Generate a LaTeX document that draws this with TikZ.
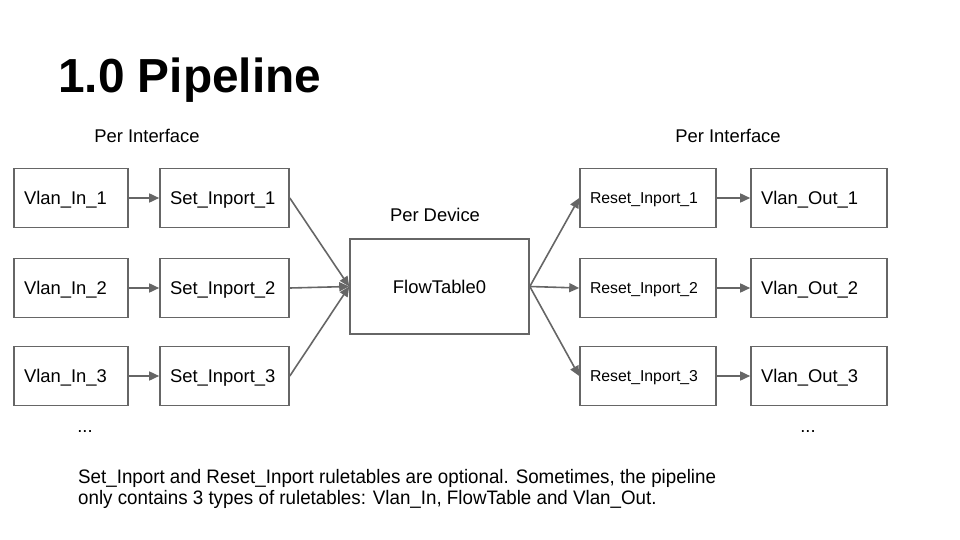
\documentclass[tikz,border=0pt]{standalone}
\usepackage{fontspec}
\setmainfont{Liberation Sans}
\newfontfamily\notefont[FakeStretch=0.962]{Liberation Sans}
\usetikzlibrary{arrows.meta}
\definecolor{linegray}{HTML}{666666}
\begin{document}
\begin{tikzpicture}[x=1pt,y=-1pt,
  box/.style={draw=linegray,line width=1.6pt,rectangle,minimum height=59pt,inner ysep=0pt,inner xsep=10pt,
    text height=13pt,text depth=0pt,align=left,font=\fontsize{18.4}{20}\selectfont},
  smallbox/.style={box,text height=11pt,font=\fontsize{15.8}{18}\selectfont},
  conn/.style={draw=linegray,line width=1.6pt,-{Triangle[length=10pt,width=9pt]}},
  lbl/.style={inner sep=0pt,anchor=base,font=\fontsize{18.4}{20}\selectfont}]
\useasboundingbox (0,0) rectangle (960,540);
\node[anchor=base west,inner sep=0pt,font=\fontsize{47.8}{50}\bfseries] (title) at (58,93) {1.0 Pipeline};
\node[lbl] (pil) at (147,143) {Per Interface};
\node[lbl] (pir) at (728,143) {Per Interface};
\node[lbl] (pd) at (435,221) {Per Device};
\node[box,minimum width=179pt,minimum height=95pt,align=center,inner xsep=0pt] (ft) at (439.5,286.5) {FlowTable0};
\foreach \i/\y in {1/198,2/288,3/376}{
  \node[box,text width=94pt] (vi\i) at (71,\y) {Vlan\_In\_\i};
  \node[box,text width=109pt] (si\i) at (224.5,\y) {Set\_Inport\_\i};
  \node[smallbox,text width=116pt] (ri\i) at (648,\y) {Reset\_Inport\_\i};
  \node[box,text width=116pt] (vo\i) at (819,\y) {Vlan\_Out\_\i};
  \draw[conn] (vi\i) -- (si\i);
  \draw[conn] (si\i.east) -- (ft.west);
  \draw[conn] (ft.east) -- (ri\i.west);
  \draw[conn] (ri\i) -- (vo\i);
}
\node[lbl] (dl) at (85,432) {...};
\node[lbl] (dr) at (808,432) {...};
\node[anchor=base west,inner sep=0pt,align=left,font=\notefont\fontsize{19.5}{18}\selectfont] (note) at (78,504) {Set\_Inport and Reset\_Inport ruletables are optional. Sometimes, the pipeline\\[1.5pt]only contains 3 types of ruletables: Vlan\_In, FlowTable and Vlan\_Out.};
\end{tikzpicture}
\end{document}
